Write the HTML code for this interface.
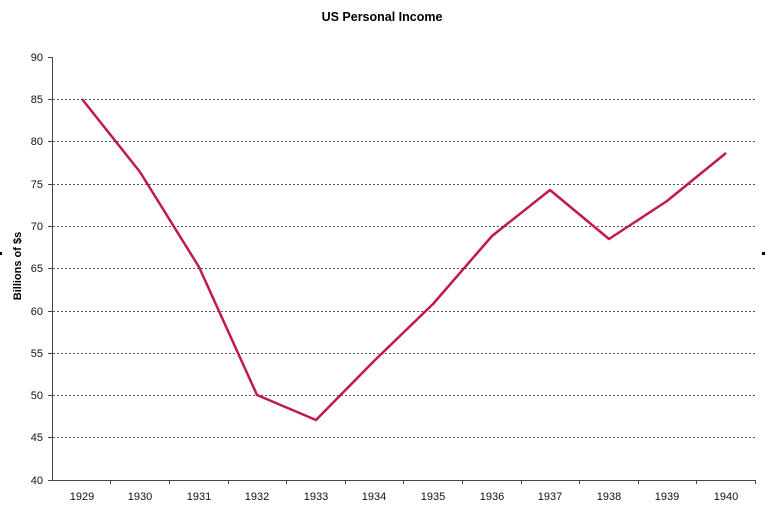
<!DOCTYPE html>
<html><head><meta charset="utf-8"><style>body{margin:0;background:#fff}svg{display:block}</style></head>
<body>
<svg width="768" height="508" xmlns="http://www.w3.org/2000/svg" font-family="Liberation Sans, sans-serif">
<rect width="768" height="508" fill="#fff"/>
<text x="382" y="21" text-anchor="middle" font-size="12.5" font-weight="bold">US Personal Income</text>
<text transform="translate(21,266) rotate(-90)" text-anchor="middle" font-size="11" font-weight="bold">Billions of $s</text>
<rect x="0" y="252" width="2" height="3" fill="#000"/>
<rect x="762" y="252" width="3" height="3" fill="#000"/>
<g stroke="#555" stroke-width="1" stroke-dasharray="2,2">
<line x1="53" x2="755" y1="99.5" y2="99.5"/>
<line x1="53" x2="755" y1="141.5" y2="141.5"/>
<line x1="53" x2="755" y1="184.5" y2="184.5"/>
<line x1="53" x2="755" y1="226.5" y2="226.5"/>
<line x1="53" x2="755" y1="268.5" y2="268.5"/>
<line x1="53" x2="755" y1="311.5" y2="311.5"/>
<line x1="53" x2="755" y1="353.5" y2="353.5"/>
<line x1="53" x2="755" y1="395.5" y2="395.5"/>
<line x1="53" x2="755" y1="437.5" y2="437.5"/>
</g>
<g stroke="#444" stroke-width="1">
<line x1="52.5" y1="57" x2="52.5" y2="480"/>
<line x1="52" y1="480.5" x2="756" y2="480.5"/>
<line x1="48" x2="52" y1="57.5" y2="57.5"/><line x1="48" x2="52" y1="99.5" y2="99.5"/><line x1="48" x2="52" y1="141.5" y2="141.5"/><line x1="48" x2="52" y1="184.5" y2="184.5"/><line x1="48" x2="52" y1="226.5" y2="226.5"/><line x1="48" x2="52" y1="268.5" y2="268.5"/><line x1="48" x2="52" y1="311.5" y2="311.5"/><line x1="48" x2="52" y1="353.5" y2="353.5"/><line x1="48" x2="52" y1="395.5" y2="395.5"/><line x1="48" x2="52" y1="437.5" y2="437.5"/><line x1="48" x2="52" y1="480.5" y2="480.5"/>
<line x1="110.5" x2="110.5" y1="480" y2="484"/><line x1="169.5" x2="169.5" y1="480" y2="484"/><line x1="228.5" x2="228.5" y1="480" y2="484"/><line x1="286.5" x2="286.5" y1="480" y2="484"/><line x1="345.5" x2="345.5" y1="480" y2="484"/><line x1="403.5" x2="403.5" y1="480" y2="484"/><line x1="462.5" x2="462.5" y1="480" y2="484"/><line x1="521.5" x2="521.5" y1="480" y2="484"/><line x1="579.5" x2="579.5" y1="480" y2="484"/><line x1="638.5" x2="638.5" y1="480" y2="484"/><line x1="696.5" x2="696.5" y1="480" y2="484"/><line x1="755.5" x2="755.5" y1="480" y2="484"/>
</g>
<g font-size="11" text-anchor="end" fill="#111">
<text x="43" y="61">90</text><text x="43" y="103">85</text><text x="43" y="145">80</text><text x="43" y="188">75</text><text x="43" y="230">70</text><text x="43" y="272">65</text><text x="43" y="315">60</text><text x="43" y="357">55</text><text x="43" y="399">50</text><text x="43" y="441">45</text><text x="43" y="484">40</text>
</g>
<g font-size="11" text-anchor="middle" fill="#111">
<text x="82" y="500">1929</text><text x="140" y="500">1930</text><text x="199" y="500">1931</text><text x="257" y="500">1932</text><text x="316" y="500">1933</text><text x="374" y="500">1934</text><text x="433" y="500">1935</text><text x="492" y="500">1936</text><text x="550" y="500">1937</text><text x="609" y="500">1938</text><text x="667" y="500">1939</text><text x="726" y="500">1940</text>
</g>
<polyline fill="none" stroke="#c0194f" stroke-width="2.5" stroke-linejoin="round"
points="82,99 140,172 199,267 257,395 316,420 374,361 433,304 492,236 550,190 609,239 667,201 726,153"/>
</svg>
</body></html>
